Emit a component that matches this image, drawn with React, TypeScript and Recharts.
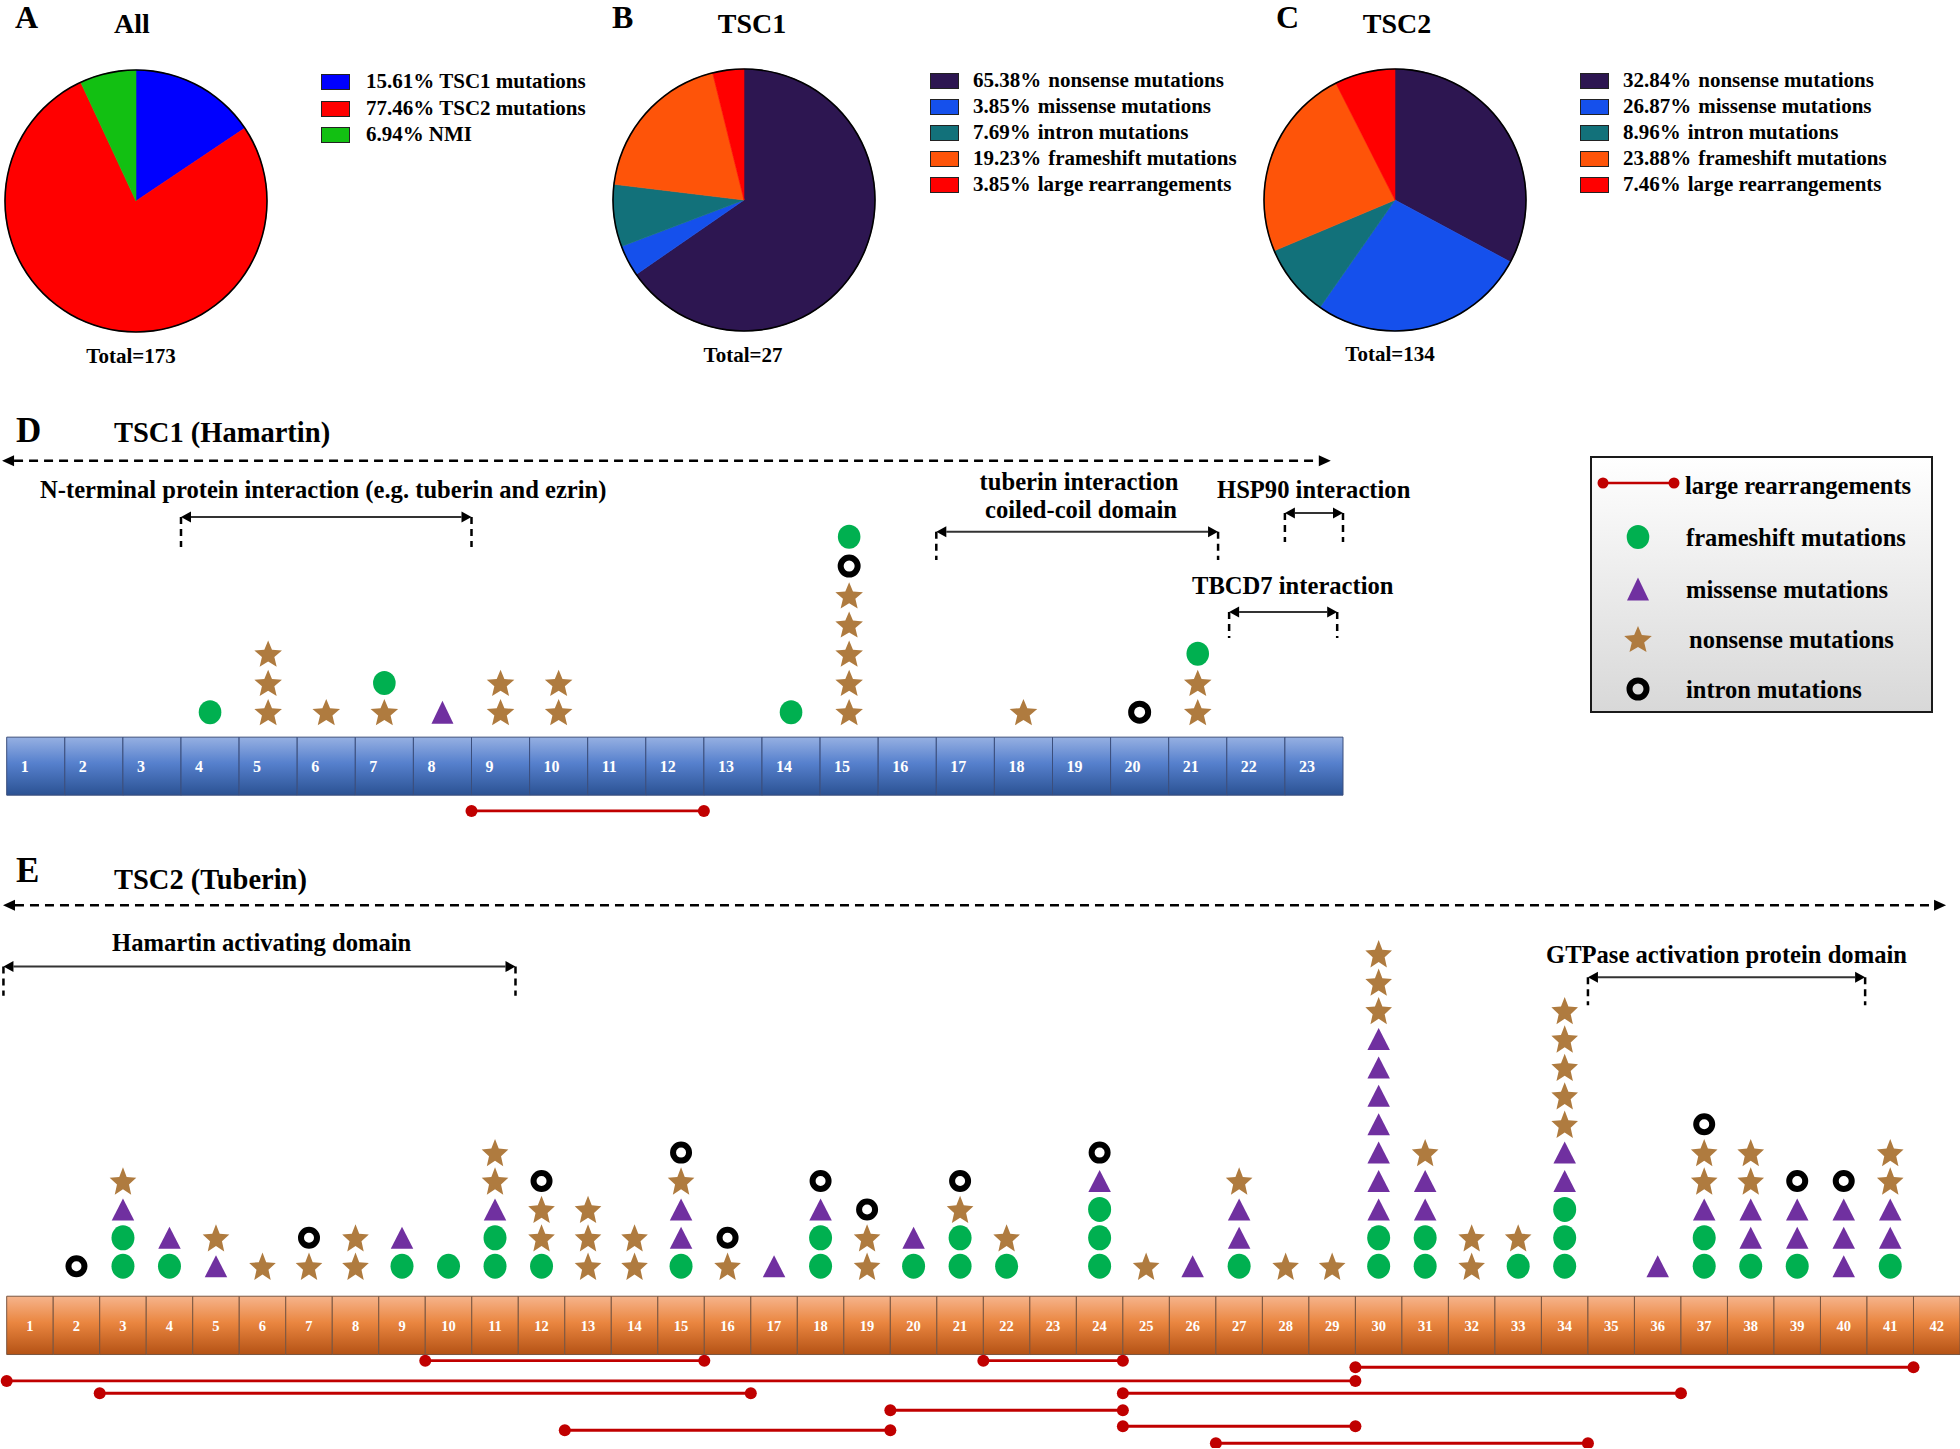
import React from 'react';
import {
  PieChart, Pie, Cell, ComposedChart, XAxis, YAxis, Scatter, Line, ReferenceLine, ReferenceArea,
} from 'recharts';

const FONT = '"Liberation Serif", "Times New Roman", Times, serif';
const GOLD = '#AF7B3F';
const GREEN = '#00B050';
const PURPLE = '#7030A0';
const RED = '#C00000';

// ---- pie data ----
const allLabels = ['TSC1 mutations', 'TSC2 mutations', 'NMI'];
const allValues = [15.61, 77.46, 6.94];
const allColors = ['#0000FF', '#FF0000', '#12C012'];

const typeLabels = ['nonsense mutations', 'missense mutations', 'intron mutations', 'frameshift mutations', 'large rearrangements'];
const typeColors = ['#2D1651', '#1550EC', '#12717A', '#FE5409', '#FF0000'];
const tsc1Values = [65.38, 3.85, 7.69, 19.23, 3.85];
const tsc2Values = [32.84, 26.87, 8.96, 23.88, 7.46];

// ---- mutation stacks per exon, bottom to top ----
// F = frameshift, M = missense, N = nonsense, I = intron
const TSC1_STACKS = [
  '', '', '', 'F', 'NNN', 'N', 'NF', 'M', 'NN', 'NN', '', '', '',
  'F', 'NNNNNIF', '', '', 'N', '', 'I', 'NNF', '', '',
];
const TSC2_STACKS = [
  '', 'I', 'FFMN', 'FM', 'MN', 'N', 'NI', 'NN', 'FM', 'F', 'FFMNN', 'FNNI', 'NNN', 'NN',
  'FMMNI', 'NI', 'M', 'FFMI', 'NNI', 'FM', 'FFNI', 'FN', '', 'FFFMI', 'N', 'M', 'FMMN', 'N',
  'N', 'FFMMMMMMMNNN', 'FFMMN', 'NN', 'FN', 'FFFMMNNNNN', '', 'M', 'FFMNNI', 'FMMNN', 'FMMI',
  'MMMI', 'FMMNN', '',
];

// large rearrangements, in exon boundaries [from, to]
const TSC1_REARR = [[8, 12]];
const TSC1_LANES = [-3.38];
const TSC2_REARR = [[9, 15], [21, 24], [29, 41], [0, 29], [2, 16], [24, 36], [19, 24], [24, 29], [12, 19], [26, 34]];
const TSC2_LANES = [-3.327, -3.327, -3.556, -4.039, -4.472, -4.472, -5.07, -5.634, -5.775, -6.232];

type Bracket = { from: number; to: number; level: number; drop: number };
const TSC1_BRACKETS: Bracket[] = [
  { from: 3, to: 8, level: 6.678, drop: 5.651 },
  { from: 16, to: 20.85, level: 6.175, drop: 5.205 },
  { from: 22, to: 23, level: 6.815, drop: 5.822 },
  { from: 21.04, to: 22.9, level: 3.425, drop: 2.534 },
];
const TSC2_BRACKETS: Bracket[] = [
  { from: -0.07, to: 10.94, level: 10.549, drop: 9.521 },
  { from: 34, to: 39.96, level: 10.176, drop: 9.19 },
];

const SYMBOL_CODES = ['F', 'M', 'N', 'I'];

type Sz = { star: number; starSy: number; crx: number; cry: number; triW: number; triH: number; ring: number; ringW: number };

function Symbol({ code, cx, cy, sz }: { code: string; cx: number; cy: number; sz: Sz }) {
  if (code === 'F') return <ellipse cx={cx} cy={cy} rx={sz.crx} ry={sz.cry} fill={GREEN} />;
  if (code === 'M') {
    return (
      <polygon
        points={`${cx},${cy - sz.triH / 2} ${cx - sz.triW / 2},${cy + sz.triH / 2} ${cx + sz.triW / 2},${cy + sz.triH / 2}`}
        fill={PURPLE}
      />
    );
  }
  if (code === 'I') return <circle cx={cx} cy={cy} r={sz.ring} fill="none" stroke="#000" strokeWidth={sz.ringW} />;
  const R = sz.star;
  const oy = cy + 0.095 * R * sz.starSy;
  const pts: string[] = [];
  for (let k = 0; k < 10; k++) {
    const rad = k % 2 ? R * 0.45 : R;
    const a = -Math.PI / 2 + (k * Math.PI) / 5;
    pts.push(`${(cx + rad * Math.cos(a)).toFixed(2)},${(oy + rad * Math.sin(a) * sz.starSy).toFixed(2)}`);
  }
  return <polygon points={pts.join(' ')} fill={GOLD} />;
}

function stackPoints(stacks: string[], code: string) {
  const pts: { x: number; y: number }[] = [];
  stacks.forEach((s, i) => {
    s.split('').forEach((c, row) => {
      if (c === code) pts.push({ x: i + 0.5, y: row });
    });
  });
  return pts;
}

const dashedArrow = (p: any) => {
  const { x1, y1, x2 } = p;
  const h = 12;
  const w = 5.5;
  return (
    <g>
      <line x1={x1 + h} y1={y1} x2={x2 - h} y2={y1} stroke="#000" strokeWidth={2.5} strokeDasharray="9 6" />
      <polygon points={`${x1},${y1} ${x1 + h},${y1 - w} ${x1 + h},${y1 + w}`} fill="#000" />
      <polygon points={`${x2},${y1} ${x2 - h},${y1 - w} ${x2 - h},${y1 + w}`} fill="#000" />
    </g>
  );
};

const bracketShape = (p: any) => {
  const { x1, y1, x2 } = p;
  const h = 10;
  const w = 5.5;
  return (
    <g>
      <line x1={x1 + h} y1={y1} x2={x2 - h} y2={y1} stroke="#333" strokeWidth={2} />
      <polygon points={`${x1},${y1} ${x1 + h},${y1 - w} ${x1 + h},${y1 + w}`} fill="#000" />
      <polygon points={`${x2},${y1} ${x2 - h},${y1 - w} ${x2 - h},${y1 + w}`} fill="#000" />
    </g>
  );
};

type GeneProps = {
  top: number;
  height: number;
  right: number;
  yDomain: [number, number];
  stacks: string[];
  rearr: number[][];
  lanes: number[];
  brackets: Bracket[];
  arrow: [number, number, number];
  band: [number, number];
  grad: string;
  border: string;
  sz: Sz;
  labelFont: number;
  labelPos: 'center' | 'insideLeft';
  labelOffset: number;
};

function GeneChart(p: GeneProps) {
  const n = p.stacks.length;
  const exonNos = p.stacks.map((_, i) => i + 1);
  const bracketEls = p.brackets.flatMap((b, i) => [
    <ReferenceLine key={`bh${i}`} segment={[{ x: b.from, y: b.level }, { x: b.to, y: b.level }]} ifOverflow="visible" shape={bracketShape} />,
    <ReferenceLine key={`bl${i}`} segment={[{ x: b.from, y: b.level }, { x: b.from, y: b.drop }]} ifOverflow="visible" stroke="#000" strokeWidth={2.5} strokeDasharray="7 5" />,
    <ReferenceLine key={`br${i}`} segment={[{ x: b.to, y: b.level }, { x: b.to, y: b.drop }]} ifOverflow="visible" stroke="#000" strokeWidth={2.5} strokeDasharray="7 5" />,
  ]);
  return (
    <div style={{ position: 'absolute', left: 0, top: p.top }}>
      <ComposedChart width={1960} height={p.height} margin={{ top: 0, right: p.right, bottom: 0, left: 6.7 }}>
        <XAxis type="number" dataKey="x" domain={[0, n]} hide />
        <YAxis type="number" dataKey="y" domain={p.yDomain} hide width={0} />
        {exonNos.map((no) => (
          <ReferenceArea
            key={`ex${no}`}
            x1={no - 1}
            x2={no}
            y1={p.band[0]}
            y2={p.band[1]}
            fill={`url(#${p.grad})`}
            fillOpacity={1}
            stroke={p.border}
            strokeWidth={1}
            ifOverflow="visible"
            label={{
              value: String(no),
              position: p.labelPos,
              offset: p.labelOffset,
              fill: '#fff',
              fontSize: p.labelFont,
              fontWeight: 700,
              fontFamily: FONT,
            }}
          />
        ))}
        <ReferenceLine
          segment={[{ x: p.arrow[0], y: p.arrow[2] }, { x: p.arrow[1], y: p.arrow[2] }]}
          ifOverflow="visible"
          shape={dashedArrow}
        />
        {bracketEls}
        {p.rearr.map(([a, b], i) => (
          <Line
            key={`r${i}`}
            data={[{ x: a, y: p.lanes[i] }, { x: b, y: p.lanes[i] }]}
            dataKey="y"
            stroke={RED}
            strokeWidth={2.8}
            dot={{ r: 6, fill: RED, stroke: RED, strokeWidth: 0 }}
            activeDot={false}
            isAnimationActive={false}
          />
        ))}
        {SYMBOL_CODES.map((code) => (
          <Scatter
            key={code}
            data={stackPoints(p.stacks, code)}
            isAnimationActive={false}
            shape={(s: any) => <Symbol code={code} cx={s.cx} cy={s.cy} sz={p.sz} />}
          />
        ))}
      </ComposedChart>
    </div>
  );
}

function PiePanel({ cx, cy, values, colors }: { cx: number; cy: number; values: number[]; colors: string[] }) {
  const data = values.map((v, i) => ({ v, i }));
  return (
    <div style={{ position: 'absolute', left: cx - 140, top: cy - 140 }}>
      <PieChart width={280} height={280} margin={{ top: 0, right: 0, bottom: 0, left: 0 }}>
        <Pie data={data} dataKey="v" cx={140} cy={140} outerRadius={131} startAngle={90} endAngle={-270} isAnimationActive={false}>
          {data.map((d) => (
            <Cell key={d.i} fill={colors[d.i]} stroke={colors[d.i]} strokeWidth={0.6} />
          ))}
        </Pie>
        <Pie
          data={[{ v: 1 }]}
          dataKey="v"
          cx={140}
          cy={140}
          innerRadius={130.2}
          outerRadius={131.8}
          startAngle={90}
          endAngle={-270}
          fill="#000"
          stroke="none"
          isAnimationActive={false}
        />
      </PieChart>
    </div>
  );
}

function Txt({ x, y, size, anchor = 'start', children }: { x: number; y: number; size: number; anchor?: string; children: React.ReactNode }) {
  const tx = anchor === 'middle' ? '-50%' : anchor === 'end' ? '-100%' : '0';
  return (
    <div
      style={{
        position: 'absolute',
        left: x,
        top: y,
        transform: `translate(${tx}, -50%)`,
        fontSize: size,
        fontWeight: 700,
        fontFamily: FONT,
        lineHeight: 0.8,
        whiteSpace: 'pre',
        color: '#000',
      }}
    >
      {children}
    </div>
  );
}

function PieLegend({ sqX, textX, y0, dy, labels, values, colors, gap }: {
  sqX: number; textX: number; y0: number; dy: number; labels: string[]; values: number[]; colors: string[]; gap: number;
}) {
  return (
    <>
      {labels.map((l, i) => (
        <React.Fragment key={l}>
          <div
            style={{
              position: 'absolute',
              left: sqX,
              top: y0 + i * dy - 7,
              width: 27,
              height: 14,
              background: colors[i],
              border: '1px solid #222',
            }}
          />
          <Txt x={textX} y={y0 + i * dy} size={21}>
            <span style={{ marginRight: gap }}>{`${values[i].toFixed(2)}%`}</span>
            {l}
          </Txt>
        </React.Fragment>
      ))}
    </>
  );
}

const D_SZ: Sz = { star: 14.5, starSy: 1.0, crx: 11.3, cry: 12, triW: 22, triH: 23, ring: 8.5, ringW: 6 };
const E_SZ: Sz = { star: 14, starSy: 1.08, crx: 11.5, cry: 12.5, triW: 22.5, triH: 22, ring: 8, ringW: 6 };

function LegendBox() {
  const items = [
    { code: 'F', label: 'frameshift mutations', y: 537, tx: 1686 },
    { code: 'M', label: 'missense mutations', y: 589, tx: 1686 },
    { code: 'N', label: 'nonsense mutations', y: 639, tx: 1689 },
    { code: 'I', label: 'intron mutations', y: 689, tx: 1686 },
  ];
  return (
    <>
      <div
        style={{
          position: 'absolute',
          left: 1590,
          top: 456,
          width: 339,
          height: 253,
          border: '2px solid #1a1a1a',
          background: 'linear-gradient(#ffffff, #d8d8d8)',
        }}
      />
      <svg style={{ position: 'absolute', left: 0, top: 0 }} width={1960} height={760}>
        <line x1={1603} y1={483} x2={1674} y2={483} stroke={RED} strokeWidth={2.5} />
        <circle cx={1603} cy={483} r={5.5} fill={RED} />
        <circle cx={1674} cy={483} r={5.5} fill={RED} />
        {items.map((it) => (
          <Symbol key={it.code} code={it.code} cx={1638} cy={it.y} sz={D_SZ} />
        ))}
      </svg>
      <Txt x={1685} y={486} size={24.5}>large rearrangements</Txt>
      {items.map((it) => (
        <Txt key={it.label} x={it.tx} y={it.y + 1} size={24.5}>{it.label}</Txt>
      ))}
    </>
  );
}

export default function App() {
  return (
    <div
      style={{
        position: 'absolute',
        left: 0,
        top: 0,
        width: 1960,
        height: 1449,
        background: '#fff',
        overflow: 'hidden',
        fontFamily: FONT,
      }}
    >
      <svg width={0} height={0} style={{ position: 'absolute' }}>
        <defs>
          <linearGradient id="gBlue" x1="0" y1="0" x2="0" y2="1">
            <stop offset="0%" stopColor="#96B0E2" />
            <stop offset="45%" stopColor="#5680CD" />
            <stop offset="100%" stopColor="#2B5293" />
          </linearGradient>
          <linearGradient id="gOrange" x1="0" y1="0" x2="0" y2="1">
            <stop offset="0%" stopColor="#F6B48C" />
            <stop offset="45%" stopColor="#EA8640" />
            <stop offset="100%" stopColor="#B45215" />
          </linearGradient>
        </defs>
      </svg>

      {/* A / B / C pies */}
      <PiePanel cx={136} cy={201} values={allValues} colors={allColors} />
      <PiePanel cx={744} cy={200} values={tsc1Values} colors={typeColors} />
      <PiePanel cx={1395} cy={200} values={tsc2Values} colors={typeColors} />

      <Txt x={15} y={18} size={32}>A</Txt>
      <Txt x={132} y={23.5} size={28} anchor="middle">All</Txt>
      <Txt x={131} y={356} size={21} anchor="middle">Total=173</Txt>
      <PieLegend sqX={321} textX={366} y0={81} dy={26.5} labels={allLabels} values={allValues} colors={allColors} gap={5} />

      <Txt x={612} y={18} size={32}>B</Txt>
      <Txt x={752} y={23.5} size={28} anchor="middle">TSC1</Txt>
      <Txt x={743} y={355} size={21} anchor="middle">Total=27</Txt>
      <PieLegend sqX={930} textX={973} y0={80} dy={26} labels={typeLabels} values={tsc1Values} colors={typeColors} gap={7} />

      <Txt x={1276} y={18} size={32}>C</Txt>
      <Txt x={1397} y={23.5} size={28} anchor="middle">TSC2</Txt>
      <Txt x={1390} y={354} size={21} anchor="middle">Total=134</Txt>
      <PieLegend sqX={1580} textX={1623} y0={80} dy={26} labels={typeLabels} values={tsc2Values} colors={typeColors} gap={7} />

      {/* D: TSC1 */}
      <GeneChart
        top={420}
        height={409}
        right={617}
        yDomain={[-4, 10]}
        stacks={TSC1_STACKS}
        rearr={TSC1_REARR}
        lanes={TSC1_LANES}
        brackets={TSC1_BRACKETS}
        arrow={[-0.08, 22.79, 8.606]}
        band={[-2.842, -0.856]}
        grad="gBlue"
        border="#3B4E7C"
        sz={D_SZ}
        labelFont={16}
        labelPos="insideLeft"
        labelOffset={14}
      />
      <Txt x={16} y={431} size={35}>D</Txt>
      <Txt x={114} y={433} size={28.5}>TSC1 (Hamartin)</Txt>
      <Txt x={40} y={490} size={24.6}>N-terminal protein interaction (e.g. tuberin and ezrin)</Txt>
      <Txt x={1079} y={482} size={24.6} anchor="middle">tuberin interaction</Txt>
      <Txt x={1081} y={510} size={24.6} anchor="middle">coiled-coil domain</Txt>
      <Txt x={1217} y={490} size={24.6}>HSP90 interaction</Txt>
      <Txt x={1192} y={586} size={24.6}>TBCD7 interaction</Txt>

      <LegendBox />

      {/* E: TSC2 */}
      <GeneChart
        top={897}
        height={551}
        right={0}
        yDomain={[-6.4, 13]}
        stacks={TSC2_STACKS}
        rearr={TSC2_REARR}
        lanes={TSC2_LANES}
        brackets={TSC2_BRACKETS}
        arrow={[-0.08, 41.7, 12.711]}
        band={[-3.109, -1.056]}
        grad="gOrange"
        border="#7A5640"
        sz={E_SZ}
        labelFont={14.5}
        labelPos="center"
        labelOffset={0}
      />
      <Txt x={16} y={871} size={35}>E</Txt>
      <Txt x={114} y={880} size={28.5}>TSC2 (Tuberin)</Txt>
      <Txt x={112} y={943} size={24.6}>Hamartin activating domain</Txt>
      <Txt x={1546} y={955} size={24.6}>GTPase activation protein domain</Txt>
    </div>
  );
}
